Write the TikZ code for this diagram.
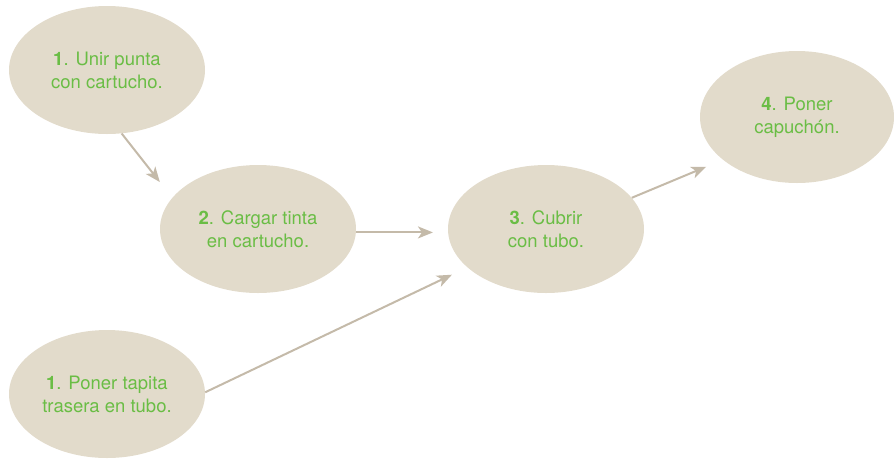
\documentclass[tikz,border=0pt]{standalone}
\usepackage{fontspec}
\setmainfont{TeX Gyre Heros}
\usetikzlibrary{shapes.geometric,arrows.meta}
\definecolor{blobfill}{HTML}{E2DBCB}
\definecolor{stepgreen}{HTML}{6ABD45}
\definecolor{linkgray}{HTML}{C4BAA9}
\begin{document}
\begin{tikzpicture}[x=1pt,y=-1pt,
  blob/.style={ellipse,fill=blobfill,draw=none,inner sep=0pt,
    minimum width=196pt,minimum height=128pt,align=center,
    text=stepgreen,font=\fontsize{18.5}{23}\selectfont},
  link/.style={draw=linkgray,line width=2pt,
    -{Stealth[length=15pt,width=12pt,inset=4pt]}}]
\useasboundingbox (0,0) rectangle (894,459);
\node[blob] (e1) at (107,70) {\textbf{1}. Unir punta\\con cartucho.};
\node[blob] (e2) at (258,229) {\textbf{2}. Cargar tinta\\en cartucho.};
\node[blob] (e3) at (546,229) {\textbf{3}. Cubrir\\con tubo.};
\node[blob,minimum width=194pt,minimum height=132pt] (e4) at (797,117) {\textbf{4}. Poner\\capuchón.\rule[-4pt]{0pt}{0pt}};
\node[blob] (e5) at (107,394) {\textbf{1}. Poner tapita\\trasera en tubo.};
\draw[link,shorten >=20pt] (e1.-77) -- (e2.160);
\draw[link,shorten >=15pt] (e2.-2) -- (e3.182);
\draw[link,shorten >=17pt] (e5.1) -- (e3.206);
\draw[link,shorten >=18pt] (e3.20) -- (e4.210);
\end{tikzpicture}
\end{document}
